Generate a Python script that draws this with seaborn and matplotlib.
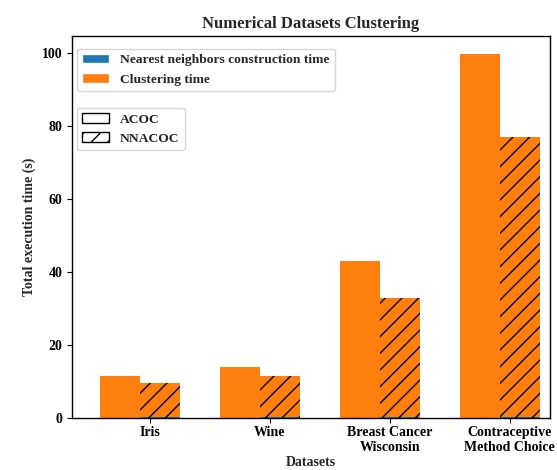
import numpy as np
import pandas as pd
import matplotlib
matplotlib.use("Agg")
import matplotlib.pyplot as plt
from matplotlib.patches import Patch
import seaborn as sns

# Per-dataset execution times (seconds)
datasets = ["Iris", "Wine", "Breast Cancer\nWisconsin", "Contraceptive\nMethod Choice"]
methods = ["ACOC", "NNACOC"]
acoc_nn_time = [0.0, 0.0, 0.0, 0.0]
acoc_cluster_time = [11.5, 13.9, 42.9, 99.7]
nnacoc_nn_time = [0.25, 0.25, 0.25, 0.25]
nnacoc_cluster_time = [9.3, 11.2, 32.6, 76.8]

BLUE = "#1f77b4"
ORANGE = "#ff7f0e"
HATCH = "//"

sns.set_style("ticks")
plt.rcParams["font.family"] = ["Liberation Serif", "DejaVu Serif"]
plt.rcParams["font.weight"] = "bold"
plt.rcParams["axes.labelweight"] = "bold"
plt.rcParams["axes.titleweight"] = "bold"
plt.rcParams["axes.edgecolor"] = "black"
plt.rcParams["xtick.color"] = "black"
plt.rcParams["ytick.color"] = "black"
plt.rcParams["hatch.linewidth"] = 1.0

rows = []
for i, d in enumerate(datasets):
    rows.append(dict(dataset=d, method="ACOC", nn=acoc_nn_time[i],
                     total=acoc_nn_time[i] + acoc_cluster_time[i]))
    rows.append(dict(dataset=d, method="NNACOC", nn=nnacoc_nn_time[i],
                     total=nnacoc_nn_time[i] + nnacoc_cluster_time[i]))
df = pd.DataFrame(rows)

fig = plt.figure(figsize=(5.57, 4.70), dpi=100)
ax = fig.add_axes([0.129, 0.111, 0.858, 0.812])

# Stacked bars: full height in orange, neighbour-construction part in blue below
sns.barplot(data=df, x="dataset", y="total", hue="method", hue_order=methods,
            palette=[ORANGE, ORANGE], width=0.667, saturation=1, legend=False,
            errorbar=None, ax=ax, linewidth=0)
sns.barplot(data=df, x="dataset", y="nn", hue="method", hue_order=methods,
            palette=[BLUE, BLUE], width=0.667, saturation=1, legend=False,
            errorbar=None, ax=ax, linewidth=0)

for cont in (ax.containers[1], ax.containers[3]):
    for p in cont:
        p.set_hatch(HATCH)
        p.set_edgecolor("black")
        p.set_linewidth(0)

for s in ax.spines.values():
    s.set_visible(True)
    s.set_linewidth(1.0)

ax.set_xlim(-0.567, 3.417)
ax.set_ylim(0, 104.6)
ax.set_xticks(np.arange(len(datasets)) + 1 / 12)
ax.set_xticklabels(datasets, fontsize=10, fontweight="bold")
ax.set_yticks([0, 20, 40, 60, 80, 100])
ax.tick_params(axis="both", labelsize=10, direction="out", length=3.5, width=0.8)
ax.tick_params(axis="x", pad=2.5)
for t in ax.get_yticklabels():
    t.set_fontweight("bold")

ax.set_title("Numerical Datasets Clustering", fontsize=12, fontweight="bold")
ax.set_xlabel("Datasets", fontsize=10, fontweight="bold", labelpad=1)
ax.set_ylabel("Total execution time (s)", fontsize=10, fontweight="bold")

leg_font = dict(weight="bold", size=9.7)
leg1 = ax.legend(handles=[Patch(facecolor=BLUE, label="Nearest neighbors construction time"),
                          Patch(facecolor=ORANGE, label="Clustering time")],
                 loc="upper left", bbox_to_anchor=(-0.004, 0.985),
                 prop=leg_font, framealpha=0.8, edgecolor="0.8")
ax.add_artist(leg1)
ax.legend(handles=[Patch(facecolor="white", edgecolor="black", label="ACOC"),
                   Patch(facecolor="white", edgecolor="black", hatch=HATCH, label="NNACOC")],
          loc="upper left", bbox_to_anchor=(-0.004, 0.83),
          prop=leg_font, framealpha=0.8, edgecolor="0.8")

fig.savefig("out.png", dpi=100)
